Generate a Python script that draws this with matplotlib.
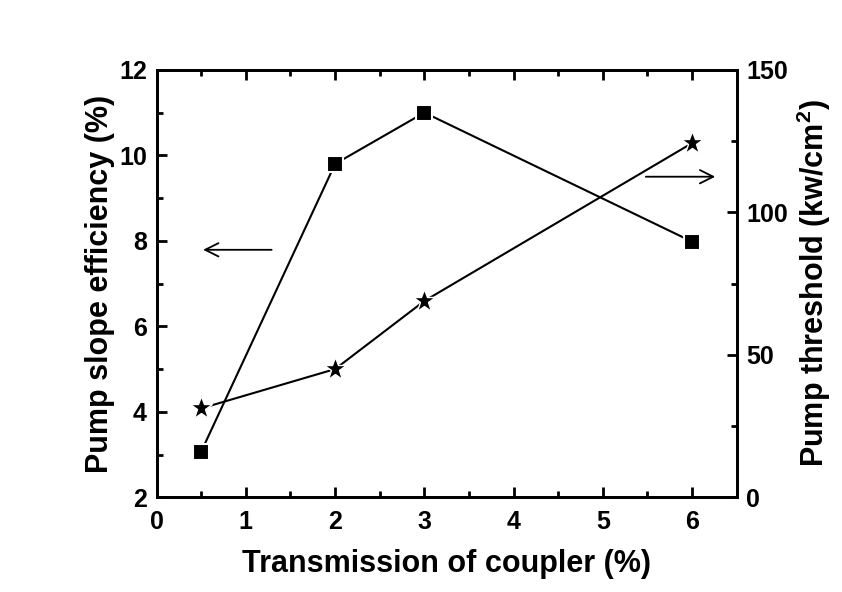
import numpy as np
import matplotlib
matplotlib.use("Agg")
import matplotlib.pyplot as plt
from matplotlib.ticker import MultipleLocator

plt.rcParams['font.family'] = ['Liberation Sans', 'DejaVu Sans']
plt.rcParams['font.weight'] = 'bold'
plt.rcParams['mathtext.fontset'] = 'custom'
plt.rcParams['mathtext.rm'] = 'Liberation Sans:bold'
plt.rcParams['mathtext.default'] = 'rm'

# data
trans = [0.5, 2, 3, 6]
slope_eff = [3.07, 9.8, 11.0, 7.98]
threshold = [31.2, 45.0, 68.9, 124.3]

fig = plt.figure(figsize=(8.42, 5.92), dpi=100)
ax = fig.add_axes([0.186, 0.160, 0.689, 0.722])
ax2 = ax.twinx()

ax.plot(trans, slope_eff, color='black', lw=1.5, marker='s', ms=11,
        mfc='black', mec='white', mew=1.5)
ax2.plot(trans, threshold, color='black', lw=1.5, marker='*', ms=17,
         mfc='black', mec='white', mew=1.0)

ax.set_xlim(0, 6.5)
ax.set_ylim(2, 12)
ax2.set_ylim(0, 150)

ax.xaxis.set_major_locator(MultipleLocator(1))
ax.xaxis.set_minor_locator(MultipleLocator(0.5))
ax.yaxis.set_major_locator(MultipleLocator(2))
ax.yaxis.set_minor_locator(MultipleLocator(1))
ax2.yaxis.set_major_locator(MultipleLocator(50))
ax2.yaxis.set_minor_locator(MultipleLocator(25))

for a in (ax, ax2):
    for s in a.spines.values():
        s.set_linewidth(2)
ax.tick_params(which='major', direction='in', length=7, width=2, labelsize=18, top=True, pad=7)
ax.tick_params(axis='x', which='major', pad=9)
ax.tick_params(which='minor', direction='in', length=4, width=2, top=True)
ax2.tick_params(which='major', direction='in', length=7, width=2, labelsize=18, pad=7)
ax2.tick_params(which='minor', direction='in', length=4, width=2)

ax.set_xlabel('Transmission of coupler (%)', fontsize=22, fontweight='bold', labelpad=11)
ax.set_ylabel('Pump slope efficiency (%)', fontsize=22, fontweight='bold', labelpad=3)
ax2.set_ylabel('Pump threshold (kw/cm$^2$)', fontsize=22, fontweight='bold', labelpad=5)

# arrows pointing to the axes
ax.annotate('', xy=(0.49, 7.79), xytext=(1.32, 7.79),
            arrowprops=dict(arrowstyle='->', lw=1.3, color='black', mutation_scale=24))
ax.annotate('', xy=(6.29, 9.5), xytext=(5.45, 9.5),
            arrowprops=dict(arrowstyle='->', lw=1.3, color='black', mutation_scale=24))

plt.savefig('out.png', dpi=100)
